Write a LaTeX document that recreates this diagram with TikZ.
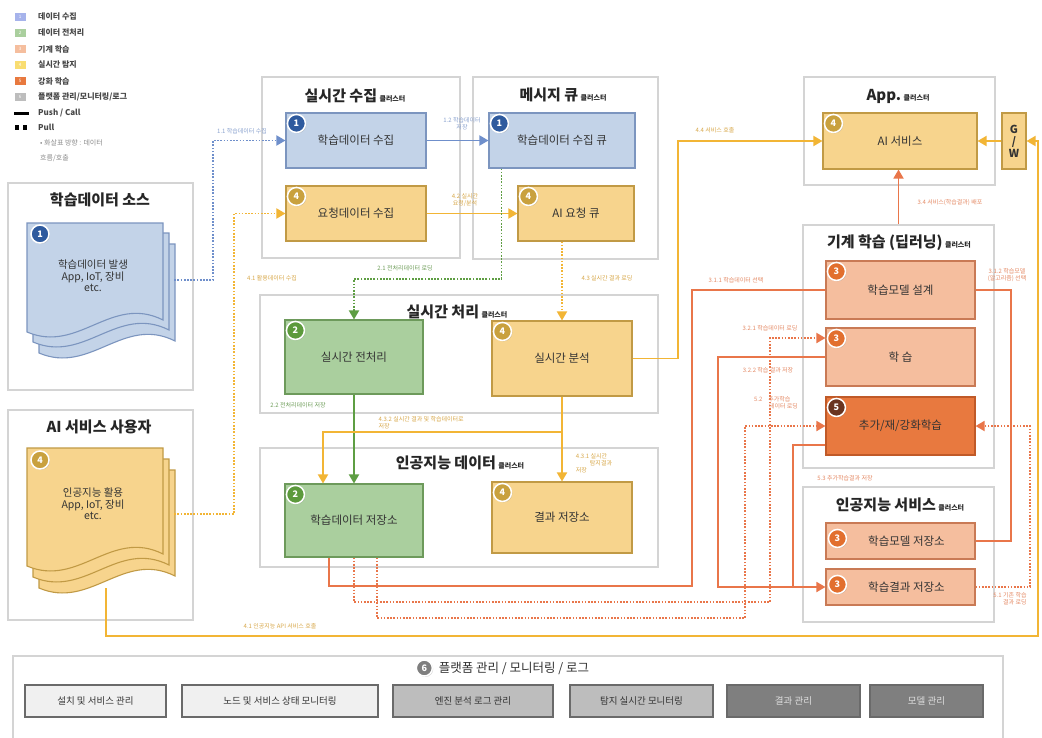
\documentclass[tikz,border=0pt]{standalone}
\usepackage{fontspec}
\setmainfont{Noto Sans CJK KR}
\usetikzlibrary{arrows.meta,shadows}

% palette
\definecolor{bluefill}{HTML}{C3D3E8}
\definecolor{bluedraw}{HTML}{7C95BF}
\definecolor{bluebadge}{HTML}{2E5A9E}
\definecolor{blueline}{HTML}{6F8FCB}
\definecolor{bluelab}{HTML}{8AA2CF}
\definecolor{greenfill}{HTML}{AACF9E}
\definecolor{greendraw}{HTML}{6D9A5B}
\definecolor{greenbadge}{HTML}{5C9A3C}
\definecolor{greenline}{HTML}{5E9E43}
\definecolor{greenlab}{HTML}{6F9E5A}
\definecolor{salfill}{HTML}{F5BE9E}
\definecolor{saldraw}{HTML}{C97A55}
\definecolor{orbadge}{HTML}{E26F2E}
\definecolor{orline}{HTML}{E9764A}
\definecolor{orlab}{HTML}{E58B66}
\definecolor{orfill}{HTML}{E8793F}
\definecolor{ordraw}{HTML}{C05A28}
\definecolor{brownbadge}{HTML}{6A3420}
\definecolor{yelfill}{HTML}{F7D48D}
\definecolor{yeldraw}{HTML}{C19A45}
\definecolor{yelbadge}{HTML}{C9A13E}
\definecolor{yelline}{HTML}{F2B535}
\definecolor{yellab}{HTML}{D8A84A}
\definecolor{clusterdraw}{HTML}{D4D4D4}
\definecolor{btnlight}{HTML}{F0F0F0}
\definecolor{btnmid}{HTML}{BDBDBD}
\definecolor{btndark}{HTML}{7F7F7F}
\definecolor{btndraw}{HTML}{6A6A6A}

\newcommand\ctsub[1]{{\fontsize{7}{8}\selectfont #1}}
% stacked document sheet with a wavy lower edge: x, y, w, h, style
\newcommand\docsheet[5]{%
  \path[#5] (#1,#2) -- (#1+#3,#2) -- (#1+#3,#2+#4-12)
    .. controls (#1+0.62*#3,#2+#4-38) and (#1+0.38*#3,#2+#4+22) .. (#1,#2+#4) -- cycle;}

\tikzset{
  cluster/.style={draw=clusterdraw, line width=2.2pt, fill=white, rectangle, inner sep=0pt},
  ctitle/.style={font=\fontsize{15}{17}\selectfont\bfseries, text=black!85, inner sep=1pt},
  box/.style={rectangle, line width=1.1pt, font=\fontsize{11.5}{13}\selectfont, text=black!80,
    drop shadow={shadow xshift=1.3pt, shadow yshift=-1.3pt, opacity=0.22}},
  bluebox/.style={box, fill=bluefill, draw=bluedraw},
  greenbox/.style={box, fill=greenfill, draw=greendraw},
  salbox/.style={box, fill=salfill, draw=saldraw},
  orbox/.style={box, fill=orfill, draw=ordraw},
  yelbox/.style={box, fill=yelfill, draw=yeldraw},
  badge/.style={circle, draw=white, line width=1.5pt, inner sep=0pt, minimum size=18pt,
    text=white, font=\fontsize{9}{9}\selectfont\bfseries,
    drop shadow={shadow xshift=0.9pt, shadow yshift=-0.9pt, opacity=0.35}},
  docblue/.style={fill=bluefill, draw=bluedraw, line width=1.1pt},
  docyel/.style={fill=yelfill, draw=yeldraw, line width=1.1pt},
  doctext/.style={font=\fontsize{10.5}{11.5}\selectfont, align=center, text=black!80},
  anchorbox/.style={rectangle, inner sep=0pt},
  lab/.style={font=\fontsize{6}{7}\selectfont, align=center, inner sep=0.5pt},
  arr/.style={-{Triangle[length=9pt,width=10pt]}},
  solb/.style={draw=blueline, line width=1.8pt},
  dotb/.style={draw=blueline, line width=1.8pt, dash pattern=on 1.7pt off 1.5pt},
  soly/.style={draw=yelline, line width=1.8pt},
  doty/.style={draw=yelline, line width=1.8pt, dash pattern=on 1.7pt off 1.5pt},
  solg/.style={draw=greenline, line width=1.8pt},
  dotg/.style={draw=greenline, line width=1.8pt, dash pattern=on 1.7pt off 1.5pt},
  solo/.style={draw=orline, line width=1.8pt},
  doto/.style={draw=orline, line width=1.8pt, dash pattern=on 1.7pt off 1.5pt},
  legsq/.style={rectangle, minimum width=11pt, minimum height=8pt, inner sep=0pt,
    font=\fontsize{4.5}{4.5}\selectfont, text=white},
  legtxt/.style={anchor=west, font=\fontsize{8}{9}\selectfont\bfseries, text=black!72, inner sep=0pt},
  btn/.style={rectangle, draw=btndraw, line width=1.1pt, minimum height=32pt,
    font=\fontsize{9.5}{11}\selectfont, text=black!80,
    drop shadow={shadow xshift=1pt, shadow yshift=-1pt, opacity=0.2}},
}

\begin{document}
\begin{tikzpicture}[x=1pt,y=-1pt]
\useasboundingbox (0,0) rectangle (1042,737);
\fill[white] (0,0) rectangle (1042,737);

% ---------- legend ----------
\node[legsq, fill=bluefill!85!blue] (lg1) at (20,17) {1};
\node[legtxt] (lt1) at (38,17) {데이터 수집};
\node[legsq, fill=greenfill] (lg2) at (20,33) {2};
\node[legtxt] (lt2) at (38,33) {데이터 전처리};
\node[legsq, fill=salfill] (lg3) at (20,49) {3};
\node[legtxt] (lt3) at (38,49) {기계 학습};
\node[legsq, fill=yelfill!80!yellow] (lg4) at (20,65) {4};
\node[legtxt] (lt4) at (38,65) {실시간 탐지};
\node[legsq, fill=orfill] (lg5) at (20,81) {5};
\node[legtxt] (lt5) at (38,81) {강화 학습};
\node[legsq, fill=btnmid] (lg6) at (20,97) {6};
\node[legtxt] (lt6) at (38,97) {플랫폼 관리/모니터링/로그};
\draw[line width=3pt, black] (14,113) -- (29,113);
\node[legtxt] (lt7) at (38,113) {Push / Call};
\fill[black] (14.5,125) rectangle (19,129.5);
\fill[black] (22.5,125) rectangle (27,129.5);
\node[legtxt] (lt8) at (38,127) {Pull};
\node[legtxt, font=\fontsize{7}{8}\selectfont, text=black!45] (lt9) at (40,143) {• 화살표 방향 : 데이터};
\node[legtxt, font=\fontsize{7}{8}\selectfont, text=black!45] (lt10) at (40,158) {흐름/호출};

% ---------- clusters ----------
\node[cluster, minimum width=198pt, minimum height=181pt] (cA) at (361,167.5) {};
\node[ctitle] (tA) at (355,96) {실시간 수집\,\ctsub{클러스터}};
\node[cluster, minimum width=185pt, minimum height=182pt] (cB) at (565.5,168) {};
\node[ctitle] (tB) at (563,95) {메시지 큐\,\ctsub{클러스터}};
\node[cluster, minimum width=191pt, minimum height=108pt] (cC) at (899.5,131) {};
\node[ctitle] (tC) at (898,96) {App.\,\ctsub{클러스터}};
\node[cluster, minimum width=191pt, minimum height=243pt] (cD) at (898.5,346.5) {};
\node[ctitle] (tD) at (899,243) {기계 학습 (딥러닝)\,\ctsub{클러스터}};
\node[cluster, minimum width=191pt, minimum height=135pt] (cE) at (898.5,554.5) {};
\node[ctitle] (tE) at (900,505) {인공지능 서비스\,\ctsub{클러스터}};
\node[cluster, minimum width=185pt, minimum height=207pt] (cF) at (100.5,286.5) {};
\node[ctitle] (tF) at (100,200) {학습데이터 소스};
\node[cluster, minimum width=185pt, minimum height=210pt] (cG) at (100.5,515) {};
\node[ctitle] (tG) at (99,427) {AI 서비스 사용자};
\node[cluster, minimum width=398pt, minimum height=118pt] (cH) at (459,354) {};
\node[ctitle] (tH) at (457,312) {실시간 처리\,\ctsub{클러스터}};
\node[cluster, minimum width=398pt, minimum height=119pt] (cI) at (459,507.5) {};
\node[ctitle] (tI) at (460,463) {인공지능 데이터\,\ctsub{클러스터}};

% ---------- document stacks ----------
\docsheet{39}{244}{136}{109}{docblue}
\docsheet{33}{233}{136}{109}{docblue}
\docsheet{27}{223}{136}{109}{docblue}
\node[anchorbox, minimum width=146pt, minimum height=100pt] (src) at (101,280) {};
\node[doctext] (srct) at (93,276) {학습데이터 발생\\App, IoT, 장비\\etc.};
\node[badge, fill=bluebadge] (srcb) at (40,234) {1};

\docsheet{39}{470}{136}{118}{docyel}
\docsheet{33}{459}{136}{118}{docyel}
\docsheet{27}{448}{136}{118}{docyel}
\node[anchorbox, minimum width=146pt, minimum height=100pt] (usr) at (101,514) {};
\node[doctext] (usrt) at (93,504) {인공지능 활용\\App, IoT, 장비\\etc.};
\node[badge, fill=yelbadge] (usrb) at (40,460) {4};
\coordinate (usrfoot) at (106,588);

% ---------- boxes ----------
\node[bluebox, minimum width=140pt, minimum height=55pt] (lsc) at (356,140.5) {학습데이터 수집};
\node[badge, fill=bluebadge] (blsc) at ([shift={(11,11)}]lsc.north west) {1};
\node[yelbox, minimum width=140pt, minimum height=55pt] (req) at (356,213.5) {요청데이터 수집};
\node[badge, fill=yelbadge] (breq) at ([shift={(11,11)}]req.north west) {4};
\node[bluebox, minimum width=146pt, minimum height=55pt] (lq) at (562,140.5) {학습데이터 수집 큐};
\node[badge, fill=bluebadge] (blq) at ([shift={(11,11)}]lq.north west) {1};
\node[yelbox, minimum width=116pt, minimum height=55pt] (aiq) at (576,213.5) {AI 요청 큐};
\node[badge, fill=yelbadge] (baiq) at ([shift={(11,11)}]aiq.north west) {4};
\node[yelbox, minimum width=154pt, minimum height=56pt] (ai) at (900,141) {AI 서비스};
\node[badge, fill=yelbadge] (bai) at ([shift={(11,11)}]ai.north west) {4};
\node[yelbox, minimum width=24pt, minimum height=56pt, inner sep=0pt, align=center,
  font=\fontsize{11}{12}\selectfont\bfseries] (gw) at (1014,141) {G\\/\\W};
\node[salbox, minimum width=149pt, minimum height=58pt] (design) at (900.5,290) {학습모델 설계};
\node[badge, fill=orbadge] (bdesign) at ([shift={(11,11)}]design.north west) {3};
\node[salbox, minimum width=149pt, minimum height=58pt] (learn) at (900.5,357) {학 습};
\node[badge, fill=orbadge] (blearn) at ([shift={(11,11)}]learn.north west) {3};
\node[orbox, minimum width=149pt, minimum height=58pt] (add) at (900.5,426) {추가/재/강화학습};
\node[badge, fill=brownbadge] (badd) at ([shift={(11,11)}]add.north west) {5};
\node[salbox, minimum width=149pt, minimum height=36pt] (mstore) at (900.5,541) {\hspace{12pt}학습모델 저장소};
\node[badge, fill=orbadge] (bmstore) at ([shift={(12,16)}]mstore.north west) {3};
\node[salbox, minimum width=149pt, minimum height=36pt] (rstore) at (900.5,587) {\hspace{12pt}학습결과 저장소};
\node[badge, fill=orbadge] (brstore) at ([shift={(12,16)}]rstore.north west) {3};
\node[greenbox, minimum width=138pt, minimum height=74pt] (pre) at (354,357) {실시간 전처리};
\node[badge, fill=greenbadge] (bpre) at ([shift={(11,11)}]pre.north west) {2};
\node[yelbox, minimum width=140pt, minimum height=75pt] (an) at (562,358.5) {실시간 분석};
\node[badge, fill=yelbadge] (ban) at ([shift={(11,11)}]an.north west) {4};
\node[greenbox, minimum width=138pt, minimum height=73pt] (lds) at (354,520.5) {학습데이터 저장소};
\node[badge, fill=greenbadge] (blds) at ([shift={(11,11)}]lds.north west) {2};
\node[yelbox, minimum width=140pt, minimum height=71pt] (rs) at (562,517.5) {결과 저장소};
\node[badge, fill=yelbadge] (brs) at ([shift={(11,11)}]rs.north west) {4};

% ---------- connectors ----------
\draw[dotb, arr] (src.east) -- (213,280) |- (lsc.west);
\draw[solb, arr] (lsc.east) -- (lq.west);
\draw[doty, arr] (usr.east) -- (234,514) |- (req.west);
\draw[soly, arr] (req.east) -- (aiq.west);
\draw[dotg, arr] ([xshift=13pt]lq.south west) |- (354,279) -- (pre.north);
\draw[doty, arr] (aiq.south -| an.north) -- (an.north);
\draw[soly, arr] (an.east) -- (678,358.5) |- (ai.west);
\draw[soly, arr] (gw.west) -- (ai.east);
\draw[soly, arr] (usrfoot) -- (106,636) -- (1038,636) |- (gw.east);
\draw[solo, arr] (cD.north) -- (ai.south -| cD.north);
\draw[solo] ([xshift=-25pt]lds.south) |- (692,586) |- (design.west);
\draw[solo] (design.east) -- (1011,290) |- (mstore.east);
\draw[solo, arr] (learn.west) -- (718,357) |- (rstore.west);
\draw[solo] ([yshift=-19pt]add.west) -| (793,587);
\draw[doto, arr] (lds.south) |- (770,602) |- ([yshift=19pt]learn.west);
\draw[doto, arr] ([xshift=23pt]lds.south) |- (745,618) |- (add.west);
\draw[doto, arr] (rstore.east) -- (1030,587) |- (add.east);
\draw[solg, arr] (pre.south) -- (lds.north);
\draw[soly, arr] (an.south) |- (323,432) -- ([xshift=-31pt]lds.north);
\draw[soly, arr] (an.south) -- (rs.north);

% ---------- connector labels ----------
\node[lab, text=bluelab] (l11) at (242,131) {1.1 학습데이터 수집};
\node[lab, text=bluelab] (l12) at (462,124) {1.2 학습데이터\\저장};
\node[lab, text=yellab] (l42) at (465,200) {4.2 실시간\\요청/분석};
\node[lab, text=yellab] (l41) at (272,278) {4.1 활용데이터 수집};
\node[lab, text=greenlab] (l21) at (405,268) {2.1 전처리데이터 로딩};
\node[lab, text=yellab] (l43) at (607,278) {4.3 실시간 결과 로딩};
\node[lab, text=yellab] (l44) at (715,130) {4.4 서비스 호출};
\node[lab, text=orlab] (l34) at (950,203) {3.4 서비스(학습결과) 배포};
\node[lab, text=orlab] (l311) at (736,280) {3.1.1 학습데이터 선택};
\node[lab, text=orlab] (l312) at (1007,275) {3.1.2 학습모델\\(알고리즘) 선택};
\node[lab, text=orlab] (l321) at (770,328) {3.2.1 학습데이터 로딩};
\node[lab, text=orlab] (l322) at (768,370) {3.2.2 학습 결과 저장};
\node[lab, text=orlab, align=left] (l52) at (776,403) {5.2\hspace{6pt}추가학습\\\hspace{15pt}데이터 로딩};
\node[lab, text=orlab] (l53) at (845,478) {5.3 추가학습결과 저장};
\node[lab, text=orlab, align=right] (l51) at (1010,599) {5.1 기존 학습\\결과 로딩};
\node[lab, text=greenlab] (l22) at (298,405) {2.2 전처리데이터 저장};
\node[lab, text=yellab, align=left, anchor=west] (l432) at (378,423) {4.3.2 실시간 결과 및 학습데이터로\\저장};
\node[lab, text=yellab, align=left] (l431) at (594,463) {4.3.1 실시간\\\hspace{14pt}탐지결과\\저장};
\node[lab, text=yellab] (l41b) at (280,626) {4.1 인공지능 API 서비스 호출};

% ---------- platform management ----------
\node[cluster, minimum width=990pt, minimum height=90pt, anchor=north west] (plat) at (12,655) {};
\node[font=\fontsize{12.5}{14}\selectfont, text=black!80] (ptitle) at (514,668) {플랫폼 관리 / 모니터링 / 로그};
\node[badge, fill=btndark, minimum size=16pt] (pbadge) at ([xshift=-11pt]ptitle.west) {6};
\node[btn, fill=btnlight, minimum width=141pt] (p1) at (95.5,701) {설치 및 서비스 관리};
\node[btn, fill=btnlight, minimum width=196pt] (p2) at (280,701) {노드 및 서비스 상태 모니터링};
\node[btn, fill=btnmid, minimum width=160pt] (p3) at (473,701) {엔진 분석 로그 관리};
\node[btn, fill=btnmid, minimum width=143pt] (p4) at (641.5,701) {탐지 실시간 모니터링};
\node[btn, fill=btndark, minimum width=133pt, text=white!75!gray] (p5) at (793.5,701) {결과 관리};
\node[btn, fill=btndark, minimum width=113pt, text=white!75!gray] (p6) at (926.5,701) {모델 관리};
\end{tikzpicture}
\end{document}
